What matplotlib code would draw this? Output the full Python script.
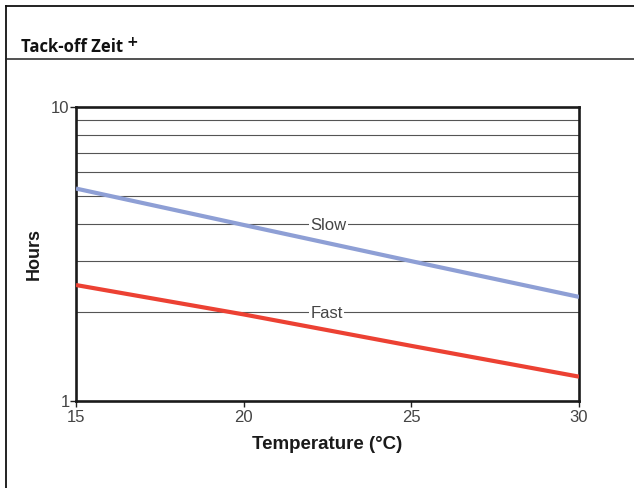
import matplotlib
matplotlib.use("Agg")
import matplotlib.pyplot as plt
from matplotlib.lines import Line2D
from matplotlib.ticker import FixedLocator, NullLocator, NullFormatter

# data
temps = [15, 20, 25, 30]
slow_hours = [5.28, 3.97, 2.99, 2.26]
fast_hours = [2.48, 1.97, 1.54, 1.21]
x_ticks = [15, 20, 25, 30]
y_ticks = [1, 10]
grid_levels = [2, 3, 4, 5, 6, 7, 8, 9]

SLOW_COLOR = "#8e9fd5"
FAST_COLOR = "#ec4133"
TEXT_GRAY = "#444444"

plt.rcParams["font.family"] = ["Liberation Sans", "DejaVu Sans"]

fig = plt.figure(figsize=(6.34, 4.88), dpi=100)
W, H = 634, 488


def fx(px):
    return px / W


def fy(py):
    return 1 - py / H


# outer frame and title separator
fig.add_artist(Line2D([fx(6), fx(6)], [fy(6), 0], color="#111111", lw=1.3))
fig.add_artist(Line2D([fx(6), 1], [fy(6), fy(6)], color="#111111", lw=1.3))
fig.add_artist(Line2D([fx(6), 1], [fy(59), fy(59)], color="#222222", lw=1.1))

fig.text(fx(21), fy(52), "Tack-off Zeit", fontsize=12, fontweight="bold",
         family=["Open Sans", "DejaVu Sans"], color="#111111", va="baseline")
fig.text(fx(126), fy(46), "+", fontsize=10, fontweight="bold",
         family=["DejaVu Sans"], color="#111111", va="baseline")

ax = fig.add_axes([fx(76), fy(401), fx(579) - fx(76), (401 - 107) / H])
ax.set_yscale("log")
ax.set_xlim(15, 30)
ax.set_ylim(1, 10)

for g in grid_levels:
    ax.axhline(g, color="#555555", lw=0.8, zorder=1)

ax.plot(temps, slow_hours, color=SLOW_COLOR, lw=3.0, zorder=3, solid_capstyle="butt")
ax.plot(temps, fast_hours, color=FAST_COLOR, lw=3.0, zorder=3, solid_capstyle="butt")

ax.text(22.54, 4.0, "Slow", fontsize=12, color=TEXT_GRAY, ha="center", va="center_baseline",
        zorder=4, bbox=dict(facecolor="white", edgecolor="none", pad=1.0))
ax.text(22.48, 2.0, "Fast", fontsize=12, color=TEXT_GRAY, ha="center", va="center_baseline",
        zorder=4, bbox=dict(facecolor="white", edgecolor="none", pad=1.0))

ax.xaxis.set_major_locator(FixedLocator(x_ticks))
ax.yaxis.set_major_locator(FixedLocator(y_ticks))
ax.yaxis.set_minor_locator(NullLocator())
ax.yaxis.set_minor_formatter(NullFormatter())
ax.set_yticklabels([str(v) for v in y_ticks])
ax.set_xticklabels([str(v) for v in x_ticks])
ax.tick_params(axis="both", direction="out", length=4, width=1.0, color="#222222",
               labelsize=12, labelcolor=TEXT_GRAY, pad=0.5)
ax.tick_params(axis="x", pad=2.5)

for s in ax.spines.values():
    s.set_linewidth(1.9)
    s.set_color("#1a1a1a")

ax.set_xlabel("Temperature (°C)", fontsize=13.5, fontweight="bold", color="#1a1a1a", labelpad=8)
ax.set_ylabel("Hours", fontsize=13, fontweight="bold", color="#1a1a1a", labelpad=6)

fig.savefig("out.png", dpi=100)
